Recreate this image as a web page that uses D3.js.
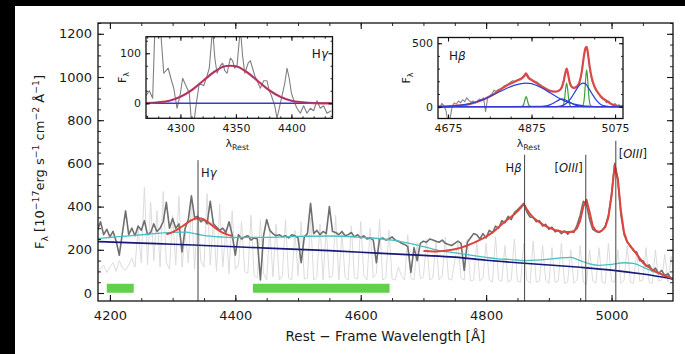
<!DOCTYPE html>
<html>
<head>
<meta charset="utf-8">
<script src="https://cdn.jsdelivr.net/npm/d3@7"></script>
<style>
body { margin: 0; background: #000; }
svg { display: block; font-family: "DejaVu Sans", sans-serif; }
</style>
</head>
<body>
<script>
const w = 685;
const h = 354;

// ---- main spectrum, sampled every 5 A from 4180 to 5100
const waveStart = 4180, waveEnd = 5100, waveStep = 5;
const fluxObs = [
  290, 330, 270, 295, 260, 285, 240, 175, 280, 380,
  270, 300, 265, 310, 290, 335, 270, 280, 320, 285,
  300, 330, 420, 300, 345, 300, 320, 190, 300, 340,
  450, 350, 355, 330, 340, 320, 425, 320, 305, 290,
  300, 280, 330, 270, 175, 270, 250, 260, 265, 245,
  255, 250, 60, 265, 340, 290, 275, 265, 270, 260,
  265, 255, 270, 265, 255, 140, 260, 275, 415, 275,
  290, 270, 285, 275, 400, 285, 280, 270, 285, 265,
  270, 280, 260, 270, 255, 265, 250, 255, 245, 140,
  250, 255, 245, 250, 260, 245, 240, 230, 225, 215,
  95, 210, 150, 230, 240, 235, 250, 245, 240, 235,
  245, 230, 225, 220, 230, 240, 230, 105, 235, 255,
  275, 270, 250, 275, 255, 290, 278, 310, 300, 335,
  325, 355, 340, 372, 385, 400, 415, 375, 352, 350,
  330, 335, 310, 318, 295, 305, 283, 290, 275, 288,
  272, 285, 280, 315, 360, 425, 410, 340, 295, 285,
  280, 290, 310, 360, 460, 600, 520, 360, 270, 235,
  220, 195, 190, 150, 150, 125, 130, 100, 115, 90,
  105, 80, 90, 65, 75
];
const fluxNoise = [
  90, 110, 130, 95, 120, 140, 100, 150, 115, 105,
  130, 160, 120, 300, 140, 490, 130, 420, 150, 380,
  120, 470, 140, 110, 360, 130, 450, 120, 280, 140,
  430, 110, 380, 150, 120, 460, 130, 340, 100, 410,
  120, 300, 90, 380, 110, 130, 330, 100, 90, 360,
  80, 70, 340, 90, 60, 300, 75, 320, 60, 80,
  340, 70, 60, 290, 80, 330, 65, 70, 350, 60,
  75, 320, 60, 300, 70, 80, 360, 60, 280, 75,
  60, 310, 70, 65, 330, 80, 60, 300, 70, 90,
  340, 60, 70, 290, 65, 60, 120, 80, 60, 270,
  70, 60, 230, 65, 75, 250, 60, 70, 240, 60,
  80, 260, 65, 60, 150, 230, 70, 60, 250, 55,
  60, 240, 55, 70, 230, 60, 50, 260, 60, 55,
  220, 50, 60, 250, 55, 50, 230, 60, 45, 240,
  50, 55, 220, 60, 45, 210, 50, 55, 230, 45,
  50, 200, 45, 60, 220, 50, 40, 200, 55, 45,
  210, 50, 45, 230, 55, 50, 200, 45, 60, 220,
  50, 45, 190, 55, 60, 210, 50, 45, 200, 55,
  60, 180, 50, 170, 60
];

// model fits (red) in the two fit windows
const fitGammaStart = 4290;
const fitGamma = [272, 276, 282, 290, 298, 308, 318, 328, 337, 343, 346,
  345, 340, 331, 320, 308, 297, 287, 279, 273, 268, 265];
const fitBetaStart = 4700;
const fitBeta = [
  195, 194, 193, 192, 192, 193, 194, 196, 198, 200,
  203, 206, 210, 215, 220, 226, 232, 239, 246, 253,
  261, 270, 280, 292, 305, 318, 331, 342, 353, 365,
  378, 393, 412, 388, 366, 350, 338, 328, 318, 310,
  303, 297, 292, 288, 285, 283, 282, 283, 287, 300,
  335, 400, 432, 375, 310, 288, 283, 290, 305, 350,
  450, 590, 530, 380, 280, 238, 215, 200, 180, 160,
  140, 128, 118, 108, 100, 93, 86, 80, 75, 70,
  66
];

// continuum + host (cyan) and power law (navy)
const cyanWave = [4181, 4200, 4220, 4240, 4260, 4280, 4300, 4320, 4340, 4360, 4380, 4400, 4450, 4500,
  4550, 4600, 4650, 4700, 4720, 4740, 4760, 4780, 4800, 4820, 4840, 4860, 4880, 4900, 4920, 4935,
  4950, 4965, 4980, 5000, 5020, 5035, 5050, 5070, 5098];
const cyanFlux = [252, 257, 262, 267, 272, 277, 281, 282, 272, 263, 259, 257, 258, 262,
  264, 258, 245, 215, 200, 190, 182, 173, 165, 158, 155, 150, 152, 157, 163, 165,
  150, 135, 128, 133, 140, 137, 120, 95, 70];
const plWave = [4181, 4250, 4300, 4350, 4400, 4450, 4500, 4550, 4600, 4650, 4700, 4750, 4800,
  4850, 4900, 4950, 5000, 5050, 5098];
const plFlux = [238, 231, 226, 220, 214, 208, 202, 196, 189, 181, 174, 166, 152,
  140, 130, 119, 106, 88, 65];

// continuum windows (green bars)
const windows = [[4195, 4238], [4428, 4646]];
const windowLevel = 22;

// emission line markers
const lineNames = ["H\u03b3", "H\u03b2", "[OIII]", "[OIII]"];
const lineWaves = [4340.5, 4861.3, 4958.9, 5006.8];
const lineTops = [615, 640, 640, 705];

// ---- Hgamma inset
const gWave = [4269, 4272, 4275, 4277, 4280, 4282, 4285, 4289, 4292, 4294,
  4297, 4300, 4302, 4305, 4308, 4310, 4312, 4315, 4317, 4321,
  4324, 4326, 4329, 4331, 4333, 4336, 4338, 4340, 4342, 4345,
  4347, 4349, 4351, 4354, 4356, 4358, 4361, 4363, 4365, 4367,
  4370, 4372, 4375, 4378, 4380, 4382, 4385, 4387, 4389, 4391,
  4394, 4396, 4398, 4400, 4403, 4405, 4408, 4411, 4414, 4417,
  4420, 4423, 4426, 4429, 4432, 4436];
const gFlux = [15, 25, 10, 150, 160, 150, 60, 70, 45, 30,
  -10, 20, 50, 35, 20, -40, -40, 10, 40, 35,
  55, 70, 150, 90, 60, 75, 80, 65, 60, 90,
  85, 70, 75, 150, 95, 60, 80, 85, 70, 55,
  40, 30, 45, 45, 25, 15, -5, -30, -10, 10,
  40, 70, 50, 20, 0, -10, -20, -5, -20, -10,
  -15, 5, -10, -5, -20, -15];
const gFitWave = [4269, 4280, 4290, 4300, 4310, 4320, 4330, 4340, 4345, 4350,
  4360, 4370, 4380, 4390, 4400, 4410, 4420, 4436];
const gFitFlux = [0.5, 2, 5, 13, 26, 44, 62, 74, 75, 74, 62, 44, 26, 13, 5, 2, 0.5, 0];

// ---- Hbeta inset
const bStart = 4650;
const bFlux = [
  15, -10, 25, 10, -30, -120, -90, 5, 30, 20,
  45, 30, 55, 40, 70, 50, 35, 45, 30, 40,
  60, 55, 70, -40, 75, 85, 100, 130, 120, 135,
  140, 150, 165, 170, 180, 195, 205, 200, 210, 215,
  225, 240, 262, 255, 228, 215, 205, 198, 190, 178,
  165, 155, 145, 135, 128, 122, 118, 120, 125, 140,
  185, 260, 295, 215, 165, 150, 150, 158, 190, 270,
  390, 470, 430, 280, 200, 160, 125, 105, 75, 60,
  50, 30, 45, 20, 10, 25, 5, 15, -5, 10
];
const bFitWave = [4651, 4680, 4700, 4720, 4736, 4750, 4765, 4780, 4800, 4820, 4840, 4850, 4856,
  4860, 4862, 4864, 4868, 4875, 4885, 4898, 4915, 4931, 4940, 4947, 4952, 4956, 4959, 4962,
  4966, 4970, 4976, 4983, 4990, 4995, 5000, 5004, 5007, 5010, 5014, 5019, 5025, 5031, 5040,
  5055, 5070, 5094];
const bFitFlux = [0, 3, 8, 16, 29, 45, 65, 90, 135, 175, 205, 220, 235,
  252, 263, 248, 225, 210, 190, 160, 130, 118, 126, 150, 200, 265, 300, 265,
  195, 160, 148, 158, 195, 270, 390, 460, 472, 420, 320, 230, 165, 125, 85,
  45, 15, 2];
const broadWave = [4651, 4660, 4670, 4680, 4690, 4700, 4710, 4720, 4730, 4740, 4750, 4760, 4770,
  4780, 4790, 4800, 4810, 4820, 4830, 4840, 4850, 4860, 4870, 4880, 4890, 4900, 4910, 4920,
  4930, 4940, 4950, 4960, 4970, 4980, 4990, 5000, 5010, 5020, 5030, 5040, 5094];
const broadFlux = [1, 2, 3, 5, 7, 10, 14, 19, 26, 35, 46, 58, 72,
  88, 104, 120, 136, 151, 164, 174, 181, 185, 183, 176, 163, 147, 128, 108,
  88, 69, 52, 38, 27, 18, 12, 7, 4, 2, 1, 0, 0];
const wing1Wave = [4651, 4900, 4910, 4920, 4930, 4940, 4947, 4955, 4965, 4975, 4985, 4995, 5005, 5094];
const wing1Flux = [0, 2, 6, 16, 33, 52, 62, 55, 38, 20, 8, 3, 1, 0];
const wing2Wave = [4651, 4930, 4940, 4950, 4960, 4970, 4980, 4990, 4998, 5005, 5010, 5020, 5030,
  5040, 5050, 5060, 5070, 5094];
const wing2Flux = [0, 1, 3, 10, 31, 69, 123, 171, 185, 178, 154, 101, 51, 20, 6, 1.5, 0, 0];
const narrowWaves = [
  [4850, 4854, 4857, 4860, 4862, 4864, 4867, 4870, 4874],
  [4947, 4951, 4954, 4957, 4959, 4961, 4964, 4967, 4971],
  [4995, 4999, 5002, 5005, 5007, 5009, 5012, 5015, 5019]
];
const narrowFluxes = [
  [0, 5, 25, 65, 80, 65, 25, 5, 0],
  [0, 12, 58, 150, 185, 150, 58, 12, 0],
  [0, 18, 90, 235, 290, 235, 90, 18, 0]
];

// ---------------------------------------------------------------
const svg = d3.select("body")
              .append("svg")
              .attr("width", w)
              .attr("height", h);

svg.append("rect")
   .attr("x", 15).attr("y", 6)
   .attr("width", w - 15).attr("height", h - 6)
   .attr("fill", "#fff");

const defs = svg.append("defs");

function addClip(id, x, y) {
  defs.append("clipPath").attr("id", id)
      .append("rect")
      .attr("x", x.range()[0]).attr("y", y.range()[1])
      .attr("width", x.range()[1] - x.range()[0])
      .attr("height", y.range()[0] - y.range()[1]);
}

function drawLine(g, x, y, wave, flux, color, width, curve) {
  g.append("path")
   .datum(d3.zip(wave, flux))
   .attr("fill", "none")
   .attr("stroke", color)
   .attr("stroke-width", width)
   .attr("stroke-linejoin", "round")
   .attr("d", d3.line().x(d => x(d[0])).y(d => y(d[1])).curve(curve || d3.curveLinear));
}

// text with sub/superscripts
function rich(sel, parts, size) {
  let shift = 0;
  parts.forEach(p => {
    const target = p.s === "sup" ? -0.42 * size : p.s === "sub" ? 0.28 * size : 0;
    sel.append("tspan")
       .attr("dy", target - shift)
       .attr("font-size", p.s ? size * 0.72 : size)
       .attr("font-style", p.i ? "italic" : null)
       .text(p.t);
    shift = target;
  });
}

function drawFrame(g, x, y, o) {
  const [left, right] = x.range();
  const [bottom, top] = y.range();
  const sides = [
    [d3.axisBottom, "translate(0," + bottom + ")", x, o.xMajor, o.xMinor, o.xPad, true],
    [d3.axisTop, "translate(0," + top + ")", x, o.xMajor, o.xMinor, 0, false],
    [d3.axisLeft, "translate(" + left + ",0)", y, o.yMajor, o.yMinor, o.yPad, true],
    [d3.axisRight, "translate(" + right + ",0)", y, o.yMajor, o.yMinor, 0, false]
  ];
  sides.forEach(([axis, tr, sc, major, minor, pad, labels]) => {
    g.append("g").attr("transform", tr)
     .call(axis(sc).tickValues(minor).tickSizeInner(-o.minor).tickSizeOuter(0).tickFormat(""))
     .call(a => a.select(".domain").remove())
     .selectAll("line").attr("stroke", "#111").attr("stroke-width", 0.9);
    const ax = g.append("g").attr("transform", tr)
     .call(axis(sc).tickValues(major).tickSizeInner(-o.major).tickSizeOuter(0)
       .tickPadding(pad).tickFormat(labels ? d3.format("d") : ""))
     .attr("font-size", o.font).attr("font-family", null);
    ax.select(".domain").remove();
    ax.selectAll("line").attr("stroke", "#111").attr("stroke-width", 1.1);
    ax.selectAll("text").attr("fill", "#1a1a1a");
  });
  g.append("rect")
   .attr("x", left).attr("y", top)
   .attr("width", right - left).attr("height", bottom - top)
   .attr("fill", "none").attr("stroke", "#111").attr("stroke-width", 1.3);
}

// ---- main panel
const xScale = d3.scaleLinear().domain([4181, 5098]).range([98, 673]);
const yScale = d3.scaleLinear().domain([-37, 1250]).range([301, 23]);
addClip("clipMain", xScale, yScale);

const main = svg.append("g");
const plot = main.append("g").attr("clip-path", "url(#clipMain)");

const waveGrid = d3.range(waveStart, waveEnd + 1, waveStep);
drawLine(plot, xScale, yScale, waveGrid, fluxNoise, "#dcdcdc", 1);
drawLine(plot, xScale, yScale, waveGrid, fluxObs, "#6f6f6f", 1.6);
drawLine(plot, xScale, yScale, cyanWave, cyanFlux, "#45c0c2", 1.3, d3.curveMonotoneX);
drawLine(plot, xScale, yScale, plWave, plFlux, "#15197a", 1.6, d3.curveMonotoneX);
drawLine(plot, xScale, yScale, fitGamma.map((d, i) => fitGammaStart + i * waveStep), fitGamma, "#e0443c", 2);
drawLine(plot, xScale, yScale, fitBeta.map((d, i) => fitBetaStart + i * waveStep), fitBeta, "#e0443c", 2);

plot.selectAll("line.win")
    .data(windows)
    .enter()
    .append("line")
    .attr("x1", d => xScale(d[0]))
    .attr("x2", d => xScale(d[1]))
    .attr("y1", yScale(windowLevel))
    .attr("y2", yScale(windowLevel))
    .attr("stroke", "#62d04c")
    .attr("stroke-width", 9);

const marks = lineNames.map((n, i) => ({ name: n, wave: lineWaves[i], top: lineTops[i], i: i }));
plot.selectAll("line.em")
    .data(marks)
    .enter()
    .append("line")
    .attr("x1", d => xScale(d.wave)).attr("x2", d => xScale(d.wave))
    .attr("y1", d => yScale(d.top)).attr("y2", yScale(-37))
    .attr("stroke", "#444").attr("stroke-width", 1);

marks.forEach(d => {
  const right = d.i === 0 || d.i === 3;
  const t = main.append("text")
    .attr("x", xScale(d.wave) + (right ? 3 : -3))
    .attr("y", yScale(d.top) + 17)
    .attr("text-anchor", right ? "start" : "end")
    .attr("font-size", 11.5)
    .attr("fill", "#1a1a1a");
  if (d.i < 2) {
    rich(t, [{ t: "H" }, { t: d.name.slice(1), i: true }], 11.5);
  } else {
    rich(t, [{ t: "[" }, { t: "OIII", i: true }, { t: "]" }], 11.5);
  }
});

drawFrame(main, xScale, yScale, {
  xMajor: [4200, 4400, 4600, 4800, 5000],
  xMinor: d3.range(4200, 5100, 50),
  yMajor: d3.range(0, 1201, 200),
  yMinor: d3.range(0, 1251, 50),
  major: 6, minor: 3, xPad: 10, yPad: 6, font: 13
});

main.append("text")
    .attr("x", 385.5).attr("y", 341)
    .attr("text-anchor", "middle")
    .attr("font-size", 13.5)
    .attr("fill", "#1a1a1a")
    .text("Rest \u2212 Frame Wavelength [\u00c5]");

const ylab = main.append("text")
    .attr("transform", "translate(44,162) rotate(-90)")
    .attr("text-anchor", "middle")
    .attr("fill", "#1a1a1a");
rich(ylab, [
  { t: "F" }, { t: "\u03bb", s: "sub" }, { t: " [10" }, { t: "\u221217", s: "sup" },
  { t: "erg s" }, { t: "\u22121", s: "sup" }, { t: " cm" }, { t: "\u22122", s: "sup" },
  { t: " \u00c5" }, { t: "\u22121", s: "sup" }, { t: "]" }
], 13);

// ---- insets
function inset(x, y, id, ylabX) {
  const g = svg.append("g");
  g.append("rect")
   .attr("x", x.range()[0]).attr("y", y.range()[1])
   .attr("width", x.range()[1] - x.range()[0])
   .attr("height", y.range()[0] - y.range()[1])
   .attr("fill", "#fff");
  addClip(id, x, y);
  const p = g.append("g").attr("clip-path", "url(#" + id + ")");
  const fl = g.append("text")
   .attr("transform", "translate(" + ylabX + "," + ((y.range()[0] + y.range()[1]) / 2) + ") rotate(-90)")
   .attr("text-anchor", "middle").attr("fill", "#1a1a1a");
  rich(fl, [{ t: "F" }, { t: "\u03bb", s: "sub" }], 11);
  const xl = g.append("text")
   .attr("x", (x.range()[0] + x.range()[1]) / 2 - 2).attr("y", 147)
   .attr("text-anchor", "middle").attr("fill", "#1a1a1a");
  rich(xl, [{ t: "\u03bb" }, { t: "Rest", s: "sub" }], 11);
  const lt = g.append("text").attr("fill", "#1a1a1a");
  return { g: g, p: p, lt: lt };
}

// Hgamma
const gx = d3.scaleLinear().domain([4269, 4437]).range([146, 332.5]);
const gy = d3.scaleLinear().domain([-30, 133]).range([118.3, 36.7]);
const ig = inset(gx, gy, "clipG", 126);
drawLine(ig.p, gx, gy, gWave, gFlux, "#808080", 1.1);
drawLine(ig.p, gx, gy, [4269, 4437], [0, 0], "#3838d6", 1.6);
drawLine(ig.p, gx, gy, gFitWave, gFitFlux, "#dc4058", 2.2, d3.curveMonotoneX);
drawLine(ig.p, gx, gy, gFitWave, gFitFlux, "#5a2a9a", 0.7, d3.curveMonotoneX);
ig.lt.attr("x", 328).attr("y", 58).attr("text-anchor", "end");
rich(ig.lt, [{ t: "H" }, { t: "\u03b3", i: true }], 12);
drawFrame(ig.g, gx, gy, {
  xMajor: [4300, 4350, 4400],
  xMinor: d3.range(4270, 4437, 10),
  yMajor: [0, 100],
  yMinor: d3.range(-25, 131, 25),
  major: 4, minor: 2, xPad: 6, yPad: 5, font: 11
});

// Hbeta
const bx = d3.scaleLinear().domain([4651, 5094]).range([438, 623]);
const by = d3.scaleLinear().domain([-93, 545]).range([118.5, 37.5]);
const ib = inset(bx, by, "clipB", 410);
drawLine(ib.p, bx, by, bFlux.map((d, i) => bStart + i * waveStep), bFlux, "#858585", 1.1);
drawLine(ib.p, bx, by, bFitWave, bFitFlux, "#da4a48", 2.2, d3.curveMonotoneX);
narrowWaves.forEach((nw, k) => drawLine(ib.p, bx, by, nw, narrowFluxes[k], "#3f9f3a", 1.2, d3.curveMonotoneX));
drawLine(ib.p, bx, by, broadWave, broadFlux, "#2a40d8", 1.2, d3.curveMonotoneX);
drawLine(ib.p, bx, by, wing1Wave, wing1Flux, "#2a40d8", 1.2, d3.curveMonotoneX);
drawLine(ib.p, bx, by, wing2Wave, wing2Flux, "#2a40d8", 1.2, d3.curveMonotoneX);
drawLine(ib.p, bx, by, [4651, 5094], [0, 0], "#3838d6", 1.6);
ib.lt.attr("x", 449).attr("y", 60).attr("text-anchor", "start");
rich(ib.lt, [{ t: "H" }, { t: "\u03b2", i: true }], 12);
drawFrame(ib.g, bx, by, {
  xMajor: [4675, 4875, 5075],
  xMinor: d3.range(4675, 5094, 50),
  yMajor: [0, 500],
  yMinor: d3.range(0, 545, 100),
  major: 4, minor: 2, xPad: 6, yPad: 5, font: 11
});
</script>
</body>
</html>
